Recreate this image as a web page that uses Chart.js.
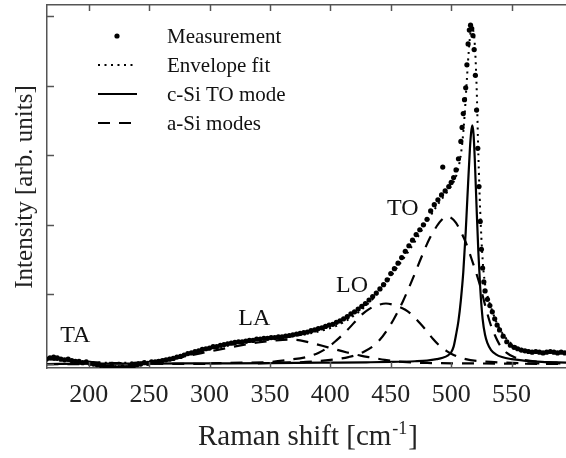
<!DOCTYPE html>
<html><head><meta charset="utf-8">
<script src="https://cdn.jsdelivr.net/npm/chart.js@4/dist/chart.umd.min.js"></script>
<style>html,body{margin:0;padding:0;background:#fff}canvas{display:block}</style>
</head><body>
<canvas id="c" width="566" height="458"></canvas>
<script>
// ---- data ----
const measX = [165,168,171,174,177,180,183,186,189,192,195,198,201,204,207,210,213,216,219,222,225,228,231,234,237,240,243,246,249,252,255,258,261,264,267,270,273,276,279,282,285,288,291,294,297,300,303,306,309,312,315,318,321,324,327,330,333,336,339,342,345,348,351,354,357,360,363,366,369,372,375,378,381,384,387,390,393,396,399,402,405,408,411,414,417,420,423,426,429,432,435,438,441,444,447,450,453,456,459,462,465,468,471,474,477,480,483,486,489,492,493,495,498,500,502,504,506,508,509,510,511,512,513,514,515,516,517,518,519,520,521,522,523,524,525,526,527,528,530,532,534,536,538,540,543,546,549,552,555,558,561,564,567,570,573,576,579,582,585,588,591,594];
const measY = [0.07,0.09,0.10,0.09,0.07,0.06,0.07,0.05,0.04,0.04,0.02,0.03,0.01,0.00,-0.01,-0.02,-0.03,-0.04,-0.03,-0.05,-0.05,-0.04,-0.05,-0.03,-0.03,-0.01,0.00,0.02,0.01,0.03,0.03,0.04,0.05,0.06,0.07,0.08,0.10,0.11,0.13,0.15,0.16,0.18,0.19,0.21,0.22,0.23,0.25,0.25,0.27,0.28,0.29,0.30,0.31,0.32,0.32,0.33,0.34,0.34,0.36,0.36,0.37,0.37,0.38,0.38,0.39,0.39,0.40,0.41,0.42,0.43,0.44,0.45,0.46,0.48,0.49,0.51,0.52,0.54,0.56,0.57,0.60,0.62,0.65,0.68,0.72,0.75,0.79,0.83,0.87,0.92,0.97,1.02,1.08,1.14,1.21,1.30,1.37,1.45,1.53,1.62,1.70,1.78,1.86,1.93,2.00,2.08,2.20,2.29,2.36,2.43,2.83,2.49,2.55,2.61,2.68,2.79,2.95,3.20,3.40,3.60,3.80,3.97,4.30,4.60,4.80,4.87,4.82,4.72,4.52,4.15,3.65,3.10,2.55,2.05,1.65,1.38,1.18,1.05,0.93,0.84,0.75,0.65,0.56,0.49,0.40,0.32,0.27,0.24,0.22,0.20,0.19,0.18,0.17,0.18,0.17,0.16,0.17,0.18,0.17,0.16,0.17,0.16];

const envX = [165,175,185,200,215,230,245,260,275,290,305,320,335,350,365,380,395,410,425,440,455,470,480,490,497,502,506,509,511,513,515,516.5,518,519.5,521,522.5,524,526,528,531,534,538,542,548,555,565,580,595];
const envY = [0.07,0.06,0.05,0.03,0.02,0.02,0.03,0.06,0.11,0.17,0.23,0.28,0.32,0.36,0.39,0.43,0.49,0.59,0.77,1.03,1.38,1.76,2.05,2.32,2.48,2.62,2.82,3.15,3.55,4.10,4.60,4.80,4.80,4.60,4.00,3.00,2.20,1.50,1.15,0.92,0.76,0.58,0.45,0.32,0.24,0.19,0.17,0.16];

const cSiX = [165,200,250,300,350,400,430,450,470,480,488,493,497,500,502,504,506,508,510,512,513,514,515.5,516.5,517.5,518.5,519.5,521,522.5,524,526,528,530,533,537,542,550,560,575,595];
const cSiY = [0.00,0.005,0.007,0.01,0.013,0.02,0.025,0.03,0.04,0.05,0.07,0.09,0.12,0.17,0.25,0.42,0.62,0.92,1.32,1.90,2.25,2.60,3.10,3.33,3.43,3.30,2.95,2.25,1.60,1.10,0.65,0.42,0.30,0.20,0.14,0.10,0.07,0.05,0.03,0.02];

const aSiTAX = [165,175,185,200,220,250,300];
const aSiTAY = [0.07,0.06,0.045,0.03,0.015,0.005,0.0];
const aSiLAX = [165,200,220,240,260,280,300,320,340,355,365,375,385,398,413,425,435,445,460,480,510,550,595];
const aSiLAY = [0.0,0.0,0.01,0.02,0.05,0.11,0.18,0.25,0.31,0.34,0.35,0.34,0.30,0.24,0.17,0.12,0.09,0.06,0.03,0.015,0.01,0.005,0.0];
const aSiLOX = [300,330,350,365,380,390,398,405,413,420,426,432,438,446,454,462,468,474,479,485,490,496,502,512,525,545,570,595];
const aSiLOY = [0.01,0.02,0.03,0.06,0.10,0.16,0.24,0.34,0.47,0.60,0.71,0.79,0.84,0.87,0.84,0.78,0.70,0.59,0.49,0.36,0.27,0.19,0.13,0.07,0.04,0.02,0.01,0.01];
const aSiTOX = [340,360,380,400,415,427,440,452,460,468,475,482,488,492,496,500,504,508,512,518,523.5,528,532,536,540,546,552,560,575,595];
const aSiTOY = [0.01,0.02,0.03,0.06,0.10,0.17,0.33,0.63,0.90,1.22,1.52,1.80,1.98,2.07,2.12,2.10,2.03,1.90,1.75,1.45,1.15,0.85,0.60,0.42,0.28,0.16,0.10,0.06,0.03,0.02];

const xTicks = [200,250,300,350,400,450,500,550];
const yTicks = [0,1,2,3,4,5];
const legendNames = ['Measurement','Envelope fit','c-Si TO mode','a-Si modes'];
const peakNames = ['TA','LA','LO','TO'];
const peakX = [189,337,418,460];
const peakY = [0.32,0.56,1.03,2.14];

// ---- chart ----
const pts = (xs, ys) => xs.map((x, i) => ({x: x, y: ys[i]}));
const SERIF = "'Liberation Serif','Times New Roman',serif";
const AX = '#555';

const lineDs = (label, xs, ys, dash, w) => ({
  label, data: pts(xs, ys), showLine: true, pointRadius: 0, borderColor: '#000',
  borderWidth: w, borderDash: dash, cubicInterpolationMode: 'monotone', fill: false
});

const datasets = [
  {label: legendNames[0], data: pts(measX, measY), showLine: false, pointRadius: 2.6,
   pointBackgroundColor: '#000', pointBorderWidth: 0, borderColor: '#000'},
  lineDs(legendNames[1], envX, envY, [2, 4.5], 2),
  lineDs(legendNames[2], cSiX, cSiY, [], 2.2),
  lineDs(legendNames[3], aSiTAX, aSiTAY, [12, 9], 2.2),
  lineDs(legendNames[3], aSiLAX, aSiLAY, [12, 9], 2.2),
  lineDs(legendNames[3], aSiLOX, aSiLOY, [12, 9], 2.2),
  lineDs(legendNames[3], aSiTOX, aSiTOY, [12, 9], 2.2)
];

const line = (ctx, x1, y1, x2, y2) => { ctx.beginPath(); ctx.moveTo(x1, y1); ctx.lineTo(x2, y2); ctx.stroke(); };

const decor = {
  id: 'decor',
  afterDraw(chart) {
    const ctx = chart.ctx, a = chart.chartArea, sx = chart.scales.x, sy = chart.scales.y;
    ctx.save();
    ctx.strokeStyle = AX; ctx.lineWidth = 1.5; ctx.setLineDash([]);
    xTicks.forEach(v => { const p = Math.round(sx.getPixelForValue(v)) + 0.5;
      line(ctx, p, a.bottom, p, a.bottom - 6); line(ctx, p, a.top, p, a.top + 6); });
    yTicks.forEach(v => { const p = Math.round(sy.getPixelForValue(v)) + 0.5;
      line(ctx, a.left, p, a.left + 7, p); });
    ctx.fillStyle = '#111'; ctx.font = '24px ' + SERIF; ctx.textAlign = 'center'; ctx.textBaseline = 'alphabetic';
    peakNames.forEach((t, i) => ctx.fillText(t, sx.getPixelForValue(peakX[i]), sy.getPixelForValue(peakY[i])));
    const rows = [36, 65, 94, 123];
    ctx.strokeStyle = '#000'; ctx.fillStyle = '#000';
    rows.forEach((ry, i) => {
      if (i === 0) { ctx.beginPath(); ctx.arc(117, ry, 2.6, 0, Math.PI * 2); ctx.fill(); }
      else {
        const d = [datasets[1], datasets[2], datasets[3]][i - 1];
        ctx.lineWidth = d.borderWidth; ctx.setLineDash(d.borderDash); line(ctx, 98, ry, 137, ry);
      }
      ctx.setLineDash([]);
      ctx.font = '21px ' + SERIF; ctx.textAlign = 'left'; ctx.fillStyle = '#111';
      ctx.fillText(legendNames[i], 167, ry + 7);
      ctx.fillStyle = '#000';
    });
    ctx.fillStyle = '#222';
    const main = 'Raman shift [cm', sup = '-1', end = ']';
    ctx.font = '29px ' + SERIF; const w1 = ctx.measureText(main).width, w3 = ctx.measureText(end).width;
    ctx.font = '18px ' + SERIF; const w2 = ctx.measureText(sup).width;
    let x0 = 308 - (w1 + w2 + w3 + 2) / 2; const by = 445;
    ctx.textAlign = 'left';
    ctx.font = '29px ' + SERIF; ctx.fillText(main, x0, by);
    ctx.font = '18px ' + SERIF; ctx.fillText(sup, x0 + w1 + 1, by - 11);
    ctx.font = '29px ' + SERIF; ctx.fillText(end, x0 + w1 + w2 + 2, by);
    ctx.translate(32, 187); ctx.rotate(-Math.PI / 2);
    ctx.textAlign = 'center'; ctx.font = '25px ' + SERIF;
    ctx.fillText('Intensity [arb. units]', 0, 0);
    ctx.restore();
  }
};

new Chart(document.getElementById('c'), {
  type: 'scatter',
  data: {datasets},
  options: {
    responsive: false, animation: false, devicePixelRatio: 1,
    layout: {padding: 0, autoPadding: false},
    plugins: {legend: {display: false}, tooltip: {enabled: false}},
    scales: {
      x: {type: 'linear', position: 'bottom', min: 165.5, max: 595,
          afterBuildTicks: s => { s.ticks = xTicks.map(v => ({value: v})); },
          ticks: {font: {family: SERIF, size: 26}, color: '#222', padding: 12, maxRotation: 0, autoSkip: false, callback: v => String(v)},
          grid: {display: false, drawTicks: false},
          border: {display: true, color: AX, width: 1.5},
          afterFit: s => { s.height = 90; }},
      xTop: {type: 'linear', axis: 'x', position: 'top', min: 165.5, max: 595,
          ticks: {display: false}, grid: {display: false, drawTicks: false},
          border: {display: true, color: AX, width: 1.5},
          afterFit: s => { s.height = 5; }},
      y: {type: 'linear', position: 'left', min: -0.057, max: 5.16,
          afterBuildTicks: s => { s.ticks = yTicks.map(v => ({value: v})); },
          ticks: {display: false}, grid: {display: false, drawTicks: false},
          border: {display: true, color: AX, width: 1.5},
          afterFit: s => { s.width = 47; }}
    }
  },
  plugins: [decor]
});
</script>
</body></html>
